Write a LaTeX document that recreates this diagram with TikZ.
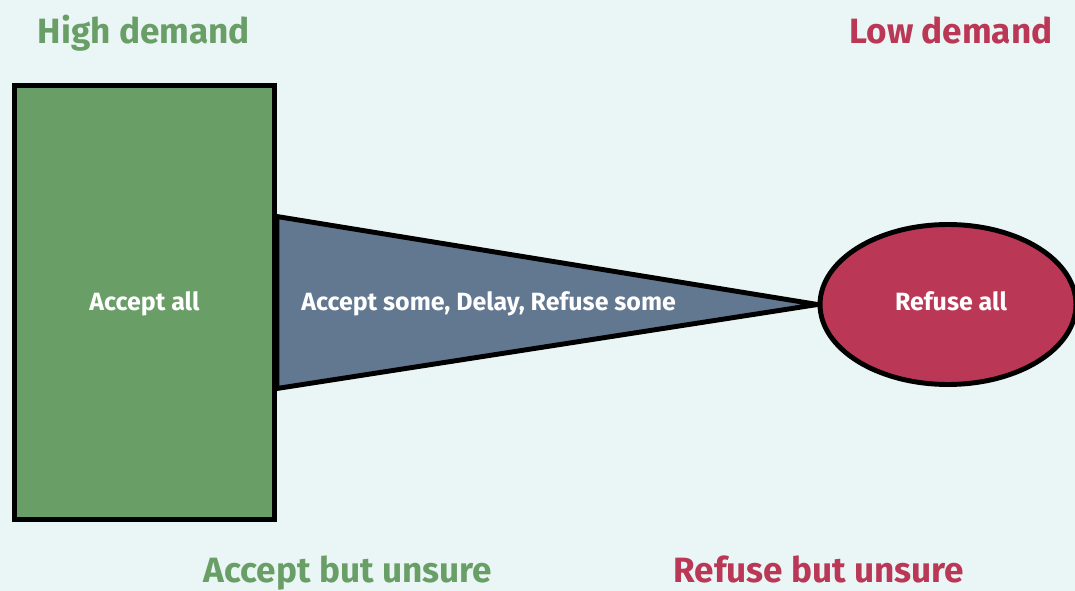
\documentclass[tikz,border=0pt]{standalone}
\usepackage{fontspec}
\setmainfont{Fira Sans}
\usepackage{tikz}
\usetikzlibrary{shapes, calc, backgrounds, positioning}
\usepackage{xcolor}

\definecolor{bgcol}{HTML}{EAF6F6}
\definecolor{greencol}{HTML}{699E67}
\definecolor{redcol}{HTML}{BA3856}
\definecolor{slatecol}{HTML}{627790}

\tikzset{
  shape box/.style={draw=black, line width=2.8pt},
  inner label/.style={text=white, font=\bfseries\fontsize{14.2}{16}\selectfont, inner sep=0pt, anchor=base},
  corner label/.style={font=\bfseries\fontsize{20}{24}\selectfont, inner sep=0pt, anchor=base}
}

\begin{document}
\begin{tikzpicture}[x=0.02cm, y=-0.02cm]
  \useasboundingbox (0,0) rectangle (1075,591);

  % accept all / refuse all
  \node[shape box, rectangle, fill=greencol, minimum width=5.2cm, minimum height=8.68cm] (box) at (144.5,302.5) {};
  \node[inner label] (acceptall) at (144.5,310) {Accept all};
  \node[shape box, ellipse, fill=redcol, minimum width=5.12cm, minimum height=3.2cm, inner sep=0pt] (ell) at (948,304.5) {};
  \node[inner label] (refuseall) at (951,310) {Refuse all};

  % fan between them
  \begin{pgfonlayer}{background}
    \fill[bgcol] (0,0) rectangle (1075,591);
    \draw[shape box, fill=slatecol, line join=miter] ($(box.east)+(0,-86)$) -- (ell.west) -- ($(box.east)+(0,86)$) -- cycle;
  \end{pgfonlayer}
  \node[inner label, anchor=base west] (middle) at (301,310) {Accept some, Delay, Refuse some};

  % corner labels
  \node[corner label, text=greencol] (high) at (144,44) {High demand};
  \node[corner label, text=redcol] (low) at (951,44) {Low demand};
  \node[corner label, text=greencol] (acceptunsure) at (348,582) {Accept but unsure};
  \node[corner label, text=redcol] (refuseunsure) at (819,582) {Refuse but unsure};
\end{tikzpicture}
\end{document}
